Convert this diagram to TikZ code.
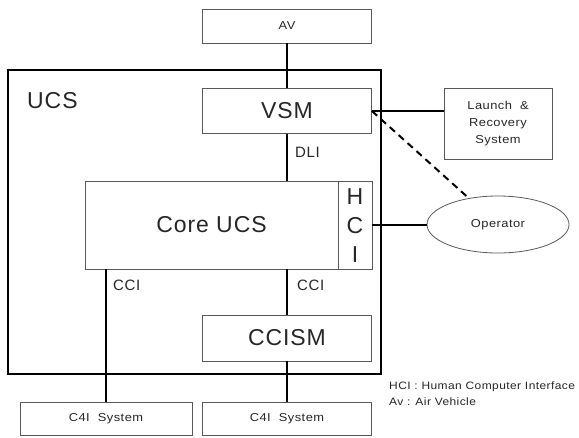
\documentclass[tikz,border=0pt]{standalone}
\usepackage{fontspec}
\setmainfont{Liberation Sans}
\newfontfamily\bigfam[LetterSpace=4]{Liberation Sans}
\newfontfamily\smallfam[LetterSpace=4,FakeStretch=1.12]{Liberation Sans}
\usetikzlibrary{shapes.geometric}
\begin{document}
\begin{tikzpicture}[x=1pt,y=-1pt,
  box/.style={draw=black!65, line width=0.8pt, rectangle, inner sep=0pt},
  big/.style={font=\bigfam\fontsize{23}{29}\selectfont, text=black!85},
  mid/.style={font=\bigfam\fontsize{15}{17}\selectfont, text=black!85},
  small/.style={font=\smallfam\fontsize{11.5}{17}\selectfont, text=black!85},
  legend/.style={font=\smallfam\fontsize{10.7}{12}\selectfont, text=black!85, anchor=west, inner sep=0pt},
  conn/.style={line width=2pt, black},
  lbl/.style={anchor=west, inner sep=0pt, mid}]
\useasboundingbox (0,0) rectangle (579,437);
\draw[line width=2pt] (8,70) rectangle (381,374);
\node[anchor=west, inner sep=0pt, big] (ucs) at (27,101) {UCS};
\node[box, small, minimum width=169pt, minimum height=34pt] (av) at (287,26) {AV};
\node[box, big, minimum width=169pt, minimum height=45pt] (vsm) at (287,111) {VSM};
\node[box, small, minimum width=108pt, minimum height=71pt, align=center] (lr) at (498,123.5) {Launch\ \ \&\\Recovery\\System};
\node[box, big, minimum width=287pt, minimum height=88pt] (core) at (228.5,225) {\hspace*{-34pt}Core UCS};
\draw[black!65, line width=0.8pt] (338.5,181) -- (338.5,269);
\node[big, align=center, inner sep=0pt] (hci) at (355,226) {H\\C\\I};
\node[draw=black!65, line width=0.8pt, ellipse, minimum width=142pt, minimum height=57pt, small, inner sep=0pt] (op) at (498,224.5) {Operator};
\node[box, big, minimum width=169pt, minimum height=46pt] (ccism) at (287,338) {CCISM};
\node[box, small, minimum width=172pt, minimum height=33pt] (c4a) at (106,418.5) {C4I\ \ System};
\node[box, small, minimum width=169pt, minimum height=33pt] (c4b) at (287,418.5) {C4I\ \ System};
\draw[conn] (av.south) -- (vsm.north);
\draw[conn] (vsm.south) -- (vsm.south |- core.north);
\draw[conn] (vsm.east) -- (vsm.east -| lr.west);
\draw[conn, dash pattern=on 7pt off 5pt] (vsm.east) -- (op);
\draw[conn] (core.east) -- (core.east -| op.west);
\draw[conn] (c4a.north |- core.south) -- (c4a.north);
\draw[conn] (ccism.north |- core.south) -- (ccism.north);
\draw[conn] (ccism.south) -- (c4b.north);
\node[lbl] (dli) at (295,152.5) {DLI};
\node[lbl] (cci1) at (113,285.5) {CCI};
\node[lbl] (cci2) at (297,285.5) {CCI};
\node[legend] (leg1) at (389,387) {HCI : Human Computer Interface};
\node[legend] (leg2) at (389,402) {Av : Air Vehicle};
\end{tikzpicture}
\end{document}
